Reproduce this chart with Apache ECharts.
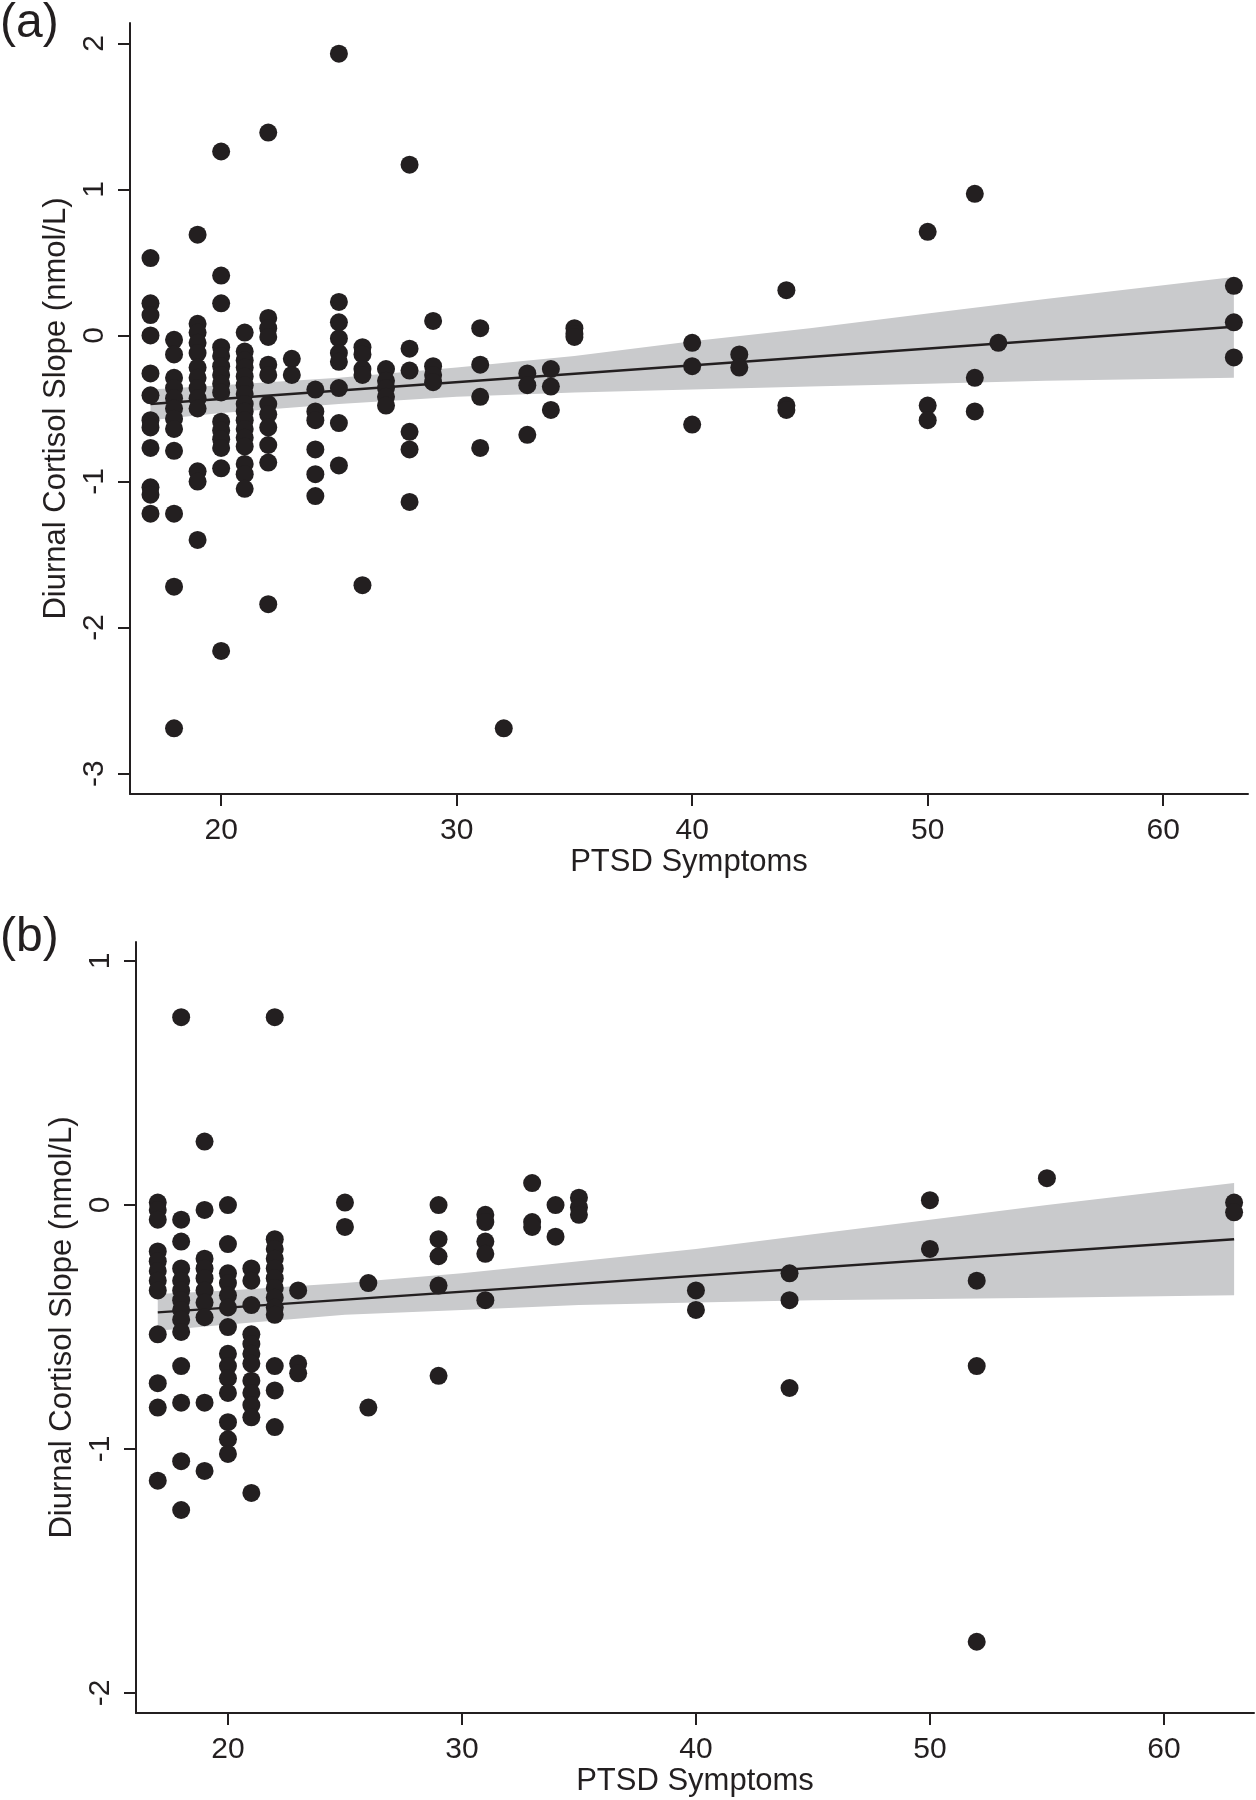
<!DOCTYPE html>
<html>
<head>
<meta charset="utf-8">
<script src="https://cdn.jsdelivr.net/npm/echarts@6/dist/echarts.min.js"></script>
<style>
  html, body { margin: 0; padding: 0; background: #fff; }
  #chart { width: 1256px; height: 1800px; }
</style>
</head>
<body>
<div id="chart"></div>
<script>
// panel (a): PTSD symptom score per column, cortisol slopes stacked in that column
const colsA = [17, 18, 19, 20, 21, 22, 23, 24, 25, 26, 27, 28, 29, 31, 32, 33, 34, 35, 40, 42, 44, 50, 52, 53, 63]
const slopesA = [
  [0.53, 0.22, 0.14, 0.0, -0.26, -0.41, -0.58, -0.63, -0.77, -1.04, -1.09, -1.22],
  [-0.03, -0.13, -0.29, -0.36, -0.43, -0.50, -0.57, -0.64, -0.79, -1.22, -1.72, -2.69],
  [0.69, 0.08, 0.02, -0.05, -0.12, -0.22, -0.29, -0.36, -0.43, -0.50, -0.93, -1.00, -1.40],
  [1.26, 0.41, 0.22, -0.08, -0.14, -0.21, -0.27, -0.33, -0.39, -0.59, -0.65, -0.71, -0.77, -0.91, -2.16],
  [0.02, -0.11, -0.17, -0.22, -0.28, -0.34, -0.40, -0.47, -0.52, -0.58, -0.64, -0.70, -0.76, -0.88, -0.95, -1.05],
  [1.39, 0.12, 0.05, -0.01, -0.20, -0.27, -0.47, -0.54, -0.63, -0.75, -0.87, -1.84],
  [-0.16, -0.27],
  [-0.37, -0.52, -0.58, -0.78, -0.95, -1.10],
  [1.93, 0.23, 0.09, -0.02, -0.12, -0.18, -0.36, -0.60, -0.89],
  [-0.08, -0.13, -0.23, -0.27, -1.71],
  [-0.23, -0.31, -0.36, -0.42, -0.48],
  [1.17, -0.09, -0.24, -0.66, -0.78, -1.14],
  [0.10, -0.21, -0.27, -0.32],
  [0.05, -0.20, -0.42, -0.77],
  [-2.69],
  [-0.26, -0.34, -0.68],
  [-0.23, -0.35, -0.51],
  [0.05, 0.01, -0.01],
  [-0.05, -0.21, -0.61],
  [-0.13, -0.22],
  [0.31, -0.48, -0.51],
  [0.71, -0.48, -0.58],
  [0.97, -0.29, -0.52],
  [-0.05],
  [0.34, 0.09, -0.15]
]
// fitted line ends and confidence band (a)
const fitXA = [17, 63]
const fitYA = [-0.47, 0.06]
const bandXA = [17, 20, 25, 30, 35, 40, 45, 50, 55, 63]
const bandHiA = [-0.37, -0.34, -0.29, -0.22, -0.14, -0.04, 0.05, 0.15, 0.25, 0.40]
const bandLoA = [-0.58, -0.53, -0.47, -0.42, -0.39, -0.37, -0.35, -0.33, -0.31, -0.29]

// panel (b)
const colsB = [17, 18, 19, 20, 21, 22, 23, 25, 26, 29, 31, 33, 34, 35, 40, 44, 50, 52, 55, 63]
const slopesB = [
  [0.01, -0.02, -0.06, -0.19, -0.23, -0.27, -0.31, -0.35, -0.53, -0.73, -0.83, -1.13],
  [0.77, -0.06, -0.15, -0.26, -0.31, -0.35, -0.39, -0.43, -0.47, -0.52, -0.66, -0.81, -1.05, -1.25],
  [0.26, -0.02, -0.22, -0.26, -0.30, -0.35, -0.40, -0.46, -0.81, -1.09],
  [0.0, -0.16, -0.28, -0.32, -0.37, -0.42, -0.50, -0.61, -0.66, -0.71, -0.77, -0.89, -0.96, -1.02],
  [-0.26, -0.31, -0.41, -0.53, -0.57, -0.61, -0.65, -0.72, -0.77, -0.82, -0.87, -1.18],
  [0.77, -0.14, -0.18, -0.22, -0.26, -0.30, -0.34, -0.38, -0.42, -0.45, -0.66, -0.76, -0.91],
  [-0.35, -0.65, -0.69],
  [0.01, -0.09],
  [-0.32, -0.83],
  [0.0, -0.14, -0.21, -0.33, -0.70],
  [-0.04, -0.07, -0.15, -0.20, -0.39],
  [0.09, -0.07, -0.09],
  [0.0, -0.13],
  [0.03, -0.01, -0.04],
  [-0.35, -0.43],
  [-0.28, -0.39, -0.75],
  [0.02, -0.18],
  [-0.31, -0.66, -1.79],
  [0.11],
  [0.01, -0.03]
]
const fitXB = [17, 63]
const fitYB = [-0.44, -0.14]
const bandXB = [17, 20, 25, 30, 35, 40, 45, 50, 55, 63]
const bandHiB = [-0.365, -0.35, -0.32, -0.28, -0.23, -0.18, -0.12, -0.06, 0.0, 0.09]
const bandLoB = [-0.515, -0.49, -0.45, -0.43, -0.41, -0.40, -0.39, -0.385, -0.38, -0.37]

const xTicks = [20, 30, 40, 50, 60]
const yTicksA = [-3, -2, -1, 0, 1, 2]
const yTicksB = [-2, -1, 0, 1]

const ink = '#231f20'
const font = '"Liberation Sans", Arial, sans-serif'

function points (cols, slopes) {
  let arr = []
  cols.forEach((x, i) => {
    slopes[i].forEach(y => arr.push([x, y]))
  })
  return arr
}

function xAxisOf (idx, min, max) {
  return {
    type: 'value', gridIndex: idx, min: min, max: max,
    name: 'PTSD Symptoms', nameLocation: 'middle', nameGap: 52,
    nameTextStyle: { fontSize: 31, color: ink, fontFamily: font },
    splitLine: { show: false },
    axisLine: { onZero: false, lineStyle: { color: ink, width: 2 } },
    axisTick: { customValues: xTicks, length: 12, lineStyle: { color: ink, width: 2 } },
    axisLabel: { customValues: xTicks, margin: 22, fontSize: 30, color: ink, fontFamily: font }
  }
}

function yAxisOf (idx, min, max, ticks) {
  return {
    type: 'value', gridIndex: idx, min: min, max: max,
    name: 'Diurnal Cortisol Slope (nmol/L)', nameLocation: 'middle', nameGap: 56,
    nameTextStyle: { fontSize: 31, color: ink, fontFamily: font },
    splitLine: { show: false },
    axisLine: { onZero: false, lineStyle: { color: ink, width: 2 } },
    axisTick: { customValues: ticks, length: 12, lineStyle: { color: ink, width: 2 } },
    axisLabel: { customValues: ticks, rotate: 90, margin: 20, fontSize: 30, color: ink, fontFamily: font }
  }
}

function bandOf (idx, bx, lo, hi) {
  return {
    type: 'custom', xAxisIndex: idx, yAxisIndex: idx, z: 1, silent: true,
    data: bx.map((x, i) => [x, lo[i], hi[i]]),
    encode: { x: 0, y: [1, 2] },
    renderItem (params, api) {
      if (params.dataIndex !== 0) return
      let top = bx.map((x, i) => api.coord([x, hi[i]]))
      let bot = bx.map((x, i) => api.coord([x, lo[i]])).reverse()
      return { type: 'polygon', shape: { points: top.concat(bot) }, style: { fill: '#c9cacc' } }
    }
  }
}

function fitOf (idx, fx, fy) {
  return {
    type: 'line', xAxisIndex: idx, yAxisIndex: idx, z: 2, silent: true,
    data: fx.map((x, i) => [x, fy[i]]),
    showSymbol: false,
    lineStyle: { color: ink, width: 2.5 }
  }
}

function dotsOf (idx, cols, slopes) {
  return {
    type: 'scatter', xAxisIndex: idx, yAxisIndex: idx, z: 3,
    data: points(cols, slopes),
    symbolSize: 18,
    itemStyle: { color: ink, opacity: 1 }
  }
}

let chart = echarts.init(document.getElementById('chart'))
chart.setOption({
  animation: false,
  backgroundColor: '#fff',
  textStyle: { fontFamily: font },
  graphic: [
    { type: 'text', left: 0, top: 0, style: { text: '(a)', fontSize: 48, fill: ink, fontFamily: font } },
    { type: 'text', left: 0, top: 914, style: { text: '(b)', fontSize: 48, fill: ink, fontFamily: font } }
  ],
  grid: [
    { left: 130, top: 23, width: 1118, height: 771 },
    { left: 136, top: 942, width: 1118, height: 771 }
  ],
  xAxis: [xAxisOf(0, 16.13, 63.6), xAxisOf(1, 16.07, 63.85)],
  yAxis: [yAxisOf(0, -3.14, 2.14, yTicksA), yAxisOf(1, -2.082, 1.078, yTicksB)],
  series: [
    bandOf(0, bandXA, bandLoA, bandHiA),
    fitOf(0, fitXA, fitYA),
    dotsOf(0, colsA, slopesA),
    bandOf(1, bandXB, bandLoB, bandHiB),
    fitOf(1, fitXB, fitYB),
    dotsOf(1, colsB, slopesB)
  ]
})
</script>
</body>
</html>
